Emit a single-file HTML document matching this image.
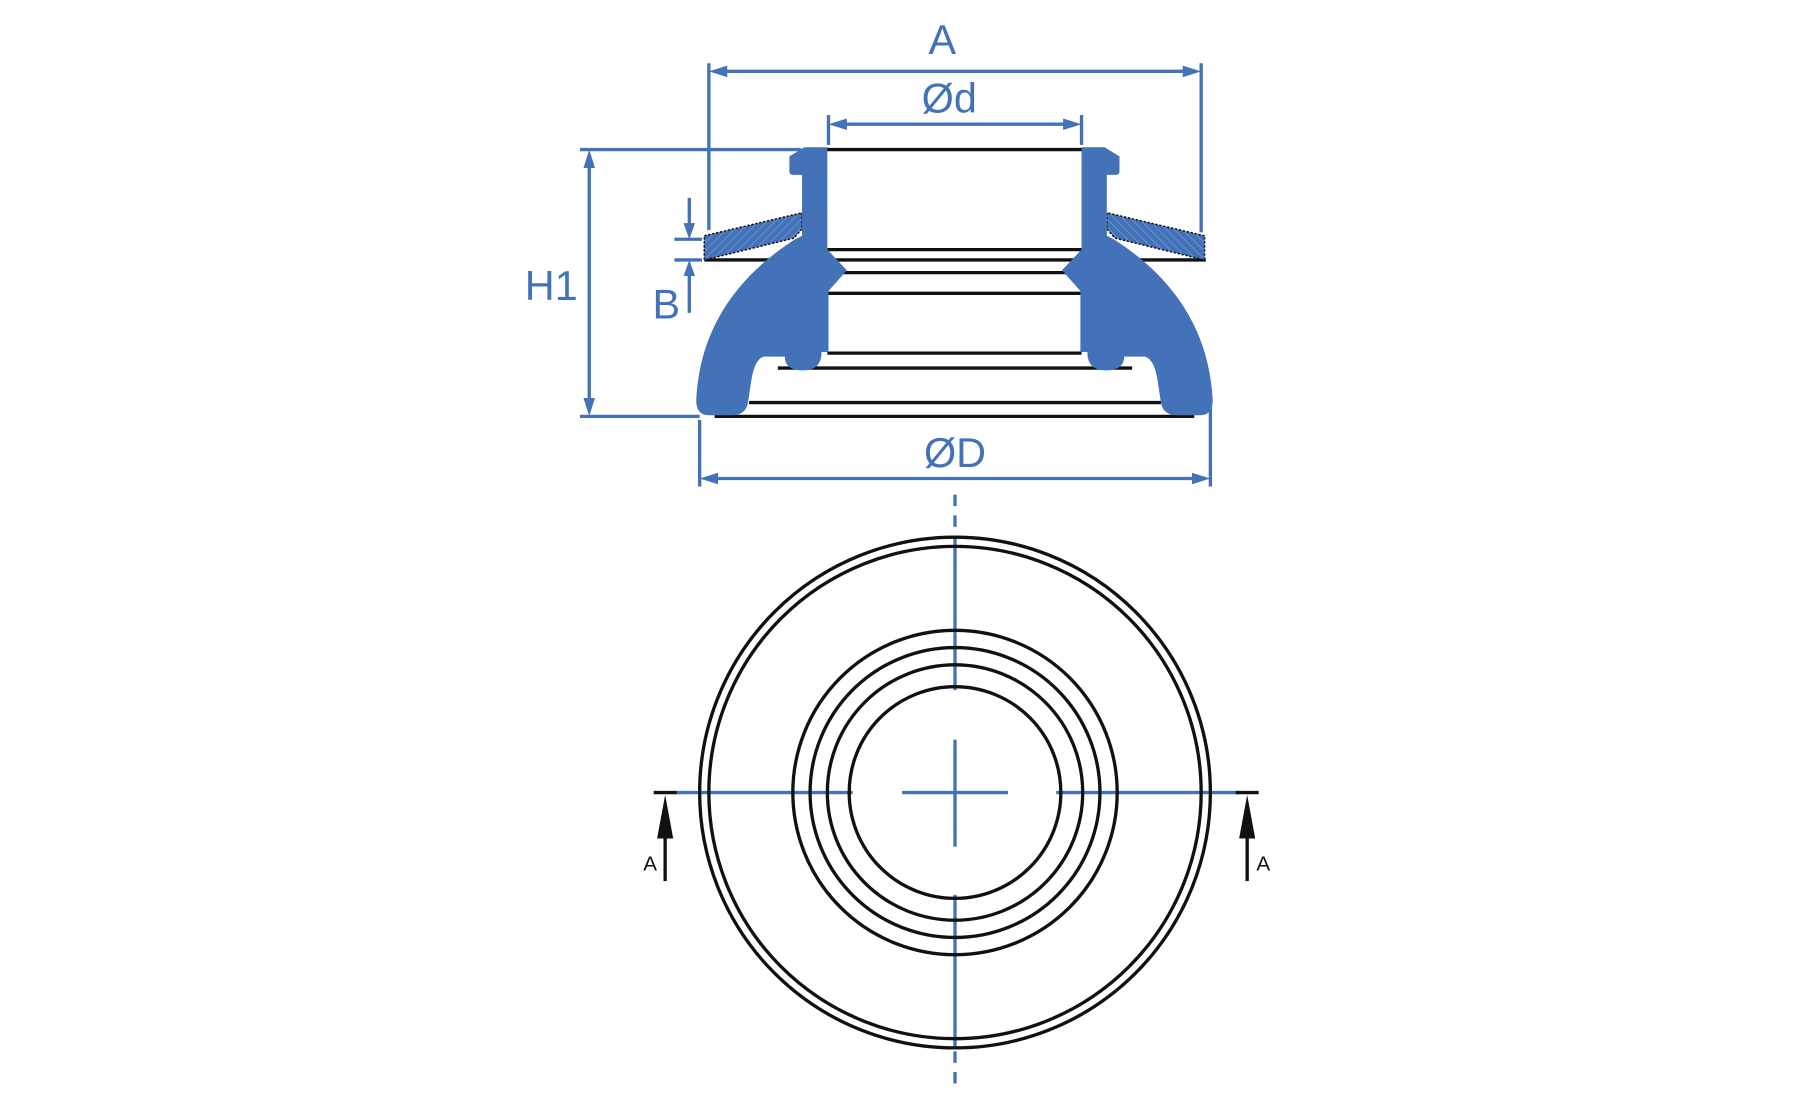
<!DOCTYPE html>
<html><head><meta charset="utf-8"><style>html,body{margin:0;padding:0;background:#fff}svg{display:block}</style></head>
<body>
<svg width="1795" height="1110" viewBox="0 0 1560 965" xmlns="http://www.w3.org/2000/svg">
<defs>
<pattern id="h" width="5" height="5" patternUnits="userSpaceOnUse" patternTransform="rotate(45)">
<rect width="5" height="5" fill="#4472b8"/><line x1="0" y1="0" x2="0" y2="5" stroke="#8fb0e0" stroke-width="0.8"/>
</pattern>
<g id="half">
<path d="M616,205 L701,185 L701,199 L694,207 L616,226 Z" fill="url(#h)" stroke="#111" stroke-width="1.3" stroke-dasharray="2 1.5"/>
<path d="M703,128 L723,128 L723,217 L740,235 L724,253 L724,306 L718,306 Q718,322 702,322 Q686,322 686,310 L668,310 Q660,312 657,330 L654,350 Q652,361 640,361 L620,361 Q609,361 609,348 C612,285 645,240 695,208 L701,205 L701,152 L693,152 Q690,152 690,149 L690,136 Z" fill="#4472b8"/>
</g>
</defs>
<g transform="translate(-4,0)">
<g stroke="#111" stroke-width="2.9" fill="none">
<line x1="703" y1="130" x2="964" y2="130"/>
<line x1="723" y1="217" x2="944" y2="217"/>
<line x1="616" y1="226" x2="1052" y2="226"/>
<line x1="735" y1="237" x2="932" y2="237"/>
<line x1="723" y1="255" x2="944" y2="255"/>
<line x1="723" y1="307" x2="944" y2="307"/>
<line x1="680" y1="320" x2="988" y2="320"/>
<line x1="655" y1="350" x2="1013" y2="350"/>
<line x1="625" y1="362" x2="1042" y2="362"/>
</g>
<use href="#half"/>
<use href="#half" transform="translate(1667,0) scale(-1,1)"/>

<g stroke="#4472b8" stroke-width="2.9" fill="none">
<line x1="620" y1="55" x2="620" y2="200"/><line x1="1048" y1="55" x2="1048" y2="202"/>
<line x1="630" y1="62" x2="1038" y2="62"/>
<line x1="724" y1="100" x2="724" y2="126"/><line x1="944" y1="100" x2="944" y2="126"/>
<line x1="734" y1="108" x2="934" y2="108"/>
<line x1="508" y1="130" x2="700" y2="130"/><line x1="508" y1="362" x2="612" y2="362"/>
<line x1="516" y1="140" x2="516" y2="352"/>
<line x1="612" y1="365" x2="612" y2="423"/><line x1="1056" y1="350" x2="1056" y2="423"/>
<line x1="622" y1="416" x2="1046" y2="416"/>
<line x1="603" y1="172" x2="603" y2="200"/><line x1="603" y1="234" x2="603" y2="272"/>
<line x1="590" y1="208" x2="614" y2="208"/><line x1="590" y1="226" x2="614" y2="226"/>
</g>
<g fill="#4472b8">
<path d="M620,62 L636,57 L636,67 Z"/><path d="M1048,62 L1032,57 L1032,67 Z"/>
<path d="M724,108 L740,103 L740,113 Z"/><path d="M944,108 L928,103 L928,113 Z"/>
<path d="M516,130 L511,146 L521,146 Z"/><path d="M516,362 L511,346 L521,346 Z"/>
<path d="M612,416 L628,411 L628,421 Z"/><path d="M1056,416 L1040,411 L1040,421 Z"/>
<path d="M603,208 L598,194 L608,194 Z"/><path d="M603,226 L598,240 L608,240 Z"/>
</g>
<g fill="#4472b8" font-family="Liberation Sans, sans-serif" font-size="36" text-anchor="middle">
<text x="823" y="47">A</text>
<text x="829" y="98">Ød</text>
<text x="483" y="261">H1</text>
<text x="583" y="277">B</text>
<text x="834" y="406">ØD</text>
</g>

<g transform="translate(0,-2)">
<g stroke="#4472b8" stroke-width="2.9" fill="none">
<line x1="834" y1="432" x2="834" y2="468" stroke-dasharray="10 8"/>
<line x1="834" y1="916" x2="834" y2="952" stroke-dasharray="10 8"/>
<line x1="834" y1="468" x2="834" y2="602"/>
<line x1="834" y1="645" x2="834" y2="738"/>
<line x1="834" y1="780" x2="834" y2="914"/>
<line x1="590" y1="691" x2="745" y2="691"/>
<line x1="788" y1="691" x2="880" y2="691"/>
<line x1="922" y1="691" x2="1082" y2="691"/>
</g>
<g stroke="#111" stroke-width="2.9" fill="none">
<circle cx="834" cy="691" r="222"/>
<circle cx="834" cy="691" r="214"/>
<circle cx="834" cy="691" r="141"/>
<circle cx="834" cy="691" r="126"/>
<circle cx="834" cy="691" r="111"/>
<circle cx="834" cy="691" r="92"/>
<line x1="572" y1="691" x2="592" y2="691"/>
<line x1="1078" y1="691" x2="1098" y2="691"/>
<line x1="582" y1="715" x2="582" y2="768"/>
<line x1="1088" y1="715" x2="1088" y2="768"/>
</g>
<g fill="#111">
<path d="M582,693 L575,731 L589,731 Z"/>
<path d="M1088,693 L1081,731 L1095,731 Z"/>
</g>
<g fill="#111" font-family="Liberation Sans, sans-serif" font-size="18" text-anchor="middle">
<text x="569" y="759">A</text>
<text x="1102" y="759">A</text>
</g>
</g>
</g>
</svg>
</body></html>
